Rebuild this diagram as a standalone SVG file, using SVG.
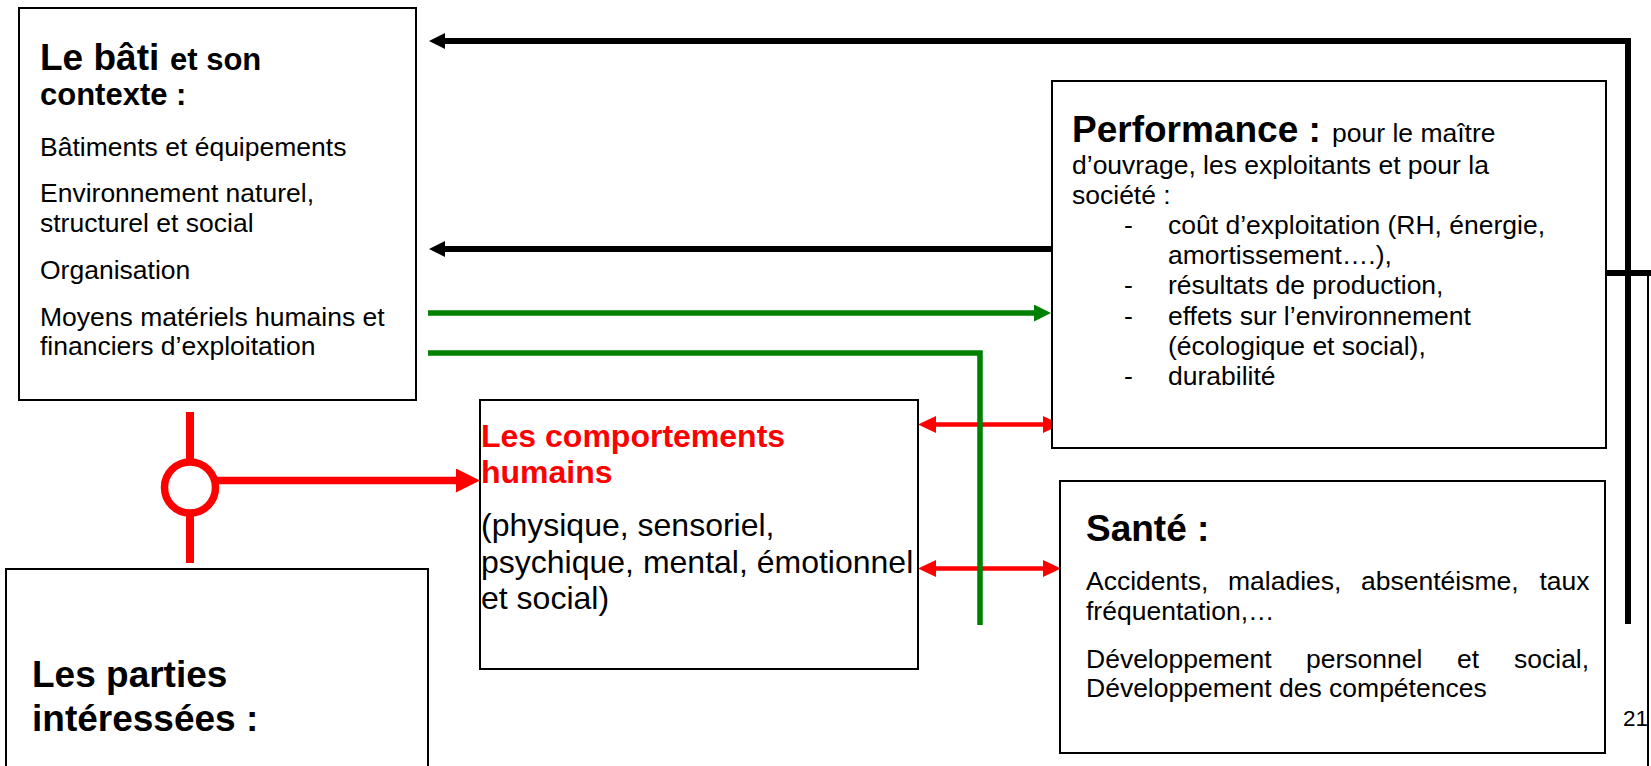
<svg xmlns="http://www.w3.org/2000/svg" width="1651" height="766" viewBox="0 0 1651 766">
<style>
text{font-family:"Liberation Sans",Arial,sans-serif;fill:#000}
.box{fill:#fff;stroke:#000;stroke-width:2}
.b37{font-size:37px;font-weight:bold}
.b31{font-size:31px;font-weight:bold}
.b32{font-size:32px;font-weight:bold}
.t26{font-size:26.5px}
.t32{font-size:32px}
.red{fill:#ff0000}
.blk{fill:none;stroke:#000;stroke-width:6}
.grn{fill:none;stroke:#008000;stroke-width:5.5}
.rd{fill:none;stroke:#ff0000}
</style>
<defs>
<marker id="ahBlack" markerUnits="userSpaceOnUse" markerWidth="16" markerHeight="16" refX="0" refY="8" orient="auto"><path d="M0,0 L16,8 L0,16 z" fill="#000"/></marker>
<marker id="ahGreen" markerUnits="userSpaceOnUse" markerWidth="17" markerHeight="17" refX="0" refY="8.5" orient="auto"><path d="M0,0 L17,8.5 L0,17 z" fill="#008000"/></marker>
<marker id="ahRed" markerUnits="userSpaceOnUse" markerWidth="18" markerHeight="17" refX="0" refY="8.5" orient="auto-start-reverse"><path d="M0,0 L18,8.5 L0,17 z" fill="#ff0000"/></marker>
<marker id="ahRedBig" markerUnits="userSpaceOnUse" markerWidth="24" markerHeight="24" refX="0" refY="12" orient="auto"><path d="M0,0 L24,12 L0,24 z" fill="#ff0000"/></marker>
</defs>

<g id="connectors">
<path class="blk" d="M1628,624 V41 H445" stroke-linejoin="miter" marker-end="url(#ahBlack)"/>
<path class="blk" d="M1052,249 H445" marker-end="url(#ahBlack)"/>
<path class="blk" d="M1604,273 H1651"/>
<path d="M1648,273 V766" stroke="#000" stroke-width="2" fill="none"/>
<path class="rd" stroke-width="4.5" d="M936,424.5 H1043" marker-start="url(#ahRed)" marker-end="url(#ahRed)"/>
<path class="rd" stroke-width="4.5" d="M936,568.5 H1043" marker-start="url(#ahRed)" marker-end="url(#ahRed)"/>
<path class="grn" d="M428,313 H1034" marker-end="url(#ahGreen)"/>
<path class="grn" d="M428,353 H980 V625" stroke-linejoin="miter"/>
<path class="rd" stroke-width="8" d="M190,412 V563"/>
<path class="rd" stroke-width="7.7" d="M212,480.5 H456" marker-end="url(#ahRedBig)"/>
<circle cx="190" cy="487.5" r="25.5" fill="#fff" stroke="#ff0000" stroke-width="7.5"/>
</g>

<g id="node-bati">
<rect class="box" x="19" y="8" width="397" height="392"/>
<text x="40" y="70"><tspan class="b37">Le bâti</tspan><tspan class="b31" x="170">et son</tspan></text>
<text class="b31" x="40" y="105">contexte :</text>
<text class="t26" x="40" y="156">Bâtiments et équipements</text>
<text class="t26" x="40" y="202">Environnement naturel,</text>
<text class="t26" x="40" y="232">structurel et social</text>
<text class="t26" x="40" y="279">Organisation</text>
<text class="t26" x="40" y="326">Moyens matériels humains et</text>
<text class="t26" x="40" y="355">financiers d’exploitation</text>
</g>

<g id="node-comportements">
<rect class="box" x="480" y="400" width="438" height="269"/>
<text class="b32 red" x="481" y="447">Les comportements</text>
<text class="b32 red" x="481" y="483">humains</text>
<text class="t32" x="481" y="536">(physique, sensoriel,</text>
<text class="t32" x="481" y="573">psychique, mental, émotionnel</text>
<text class="t32" x="481" y="609">et social)</text>
</g>

<g id="node-performance">
<rect class="box" x="1052" y="81" width="554" height="367"/>
<text x="1072" y="142"><tspan class="b37">Performance :</tspan><tspan class="t26" x="1332">pour le maître</tspan></text>
<text class="t26" x="1072" y="174">d’ouvrage, les exploitants et pour la</text>
<text class="t26" x="1072" y="204">société :</text>
<text class="t26" x="1124" y="234">-</text>
<text class="t26" x="1168" y="234">coût d’exploitation (RH, énergie,</text>
<text class="t26" x="1168" y="264">amortissement….),</text>
<text class="t26" x="1124" y="294">-</text>
<text class="t26" x="1168" y="294">résultats de production,</text>
<text class="t26" x="1124" y="325">-</text>
<text class="t26" x="1168" y="325">effets sur l’environnement</text>
<text class="t26" x="1168" y="355">(écologique et social),</text>
<text class="t26" x="1124" y="385">-</text>
<text class="t26" x="1168" y="385">durabilité</text>
</g>

<g id="node-sante">
<rect class="box" x="1060" y="481" width="545" height="272"/>
<text class="b37" x="1086" y="541">Santé :</text>
<text class="t26" y="590"><tspan x="1086">Accidents,</tspan><tspan x="1228">maladies,</tspan><tspan x="1361">absentéisme,</tspan><tspan x="1539.5">taux</tspan></text>
<text class="t26" x="1086" y="620">fréquentation,…</text>
<text class="t26" y="668"><tspan x="1086">Développement</tspan><tspan x="1306">personnel</tspan><tspan x="1457">et</tspan><tspan x="1514">social,</tspan></text>
<text class="t26" x="1086" y="697">Développement des compétences</text>
</g>

<g id="node-parties">
<rect class="box" x="6" y="569" width="422" height="250"/>
<text class="b37" x="32" y="687">Les parties</text>
<text class="b37" x="32" y="731">intéressées :</text>
</g>

<g id="page-number">
<text x="1623" y="726" font-size="22.5">21</text>
</g>
</svg>
